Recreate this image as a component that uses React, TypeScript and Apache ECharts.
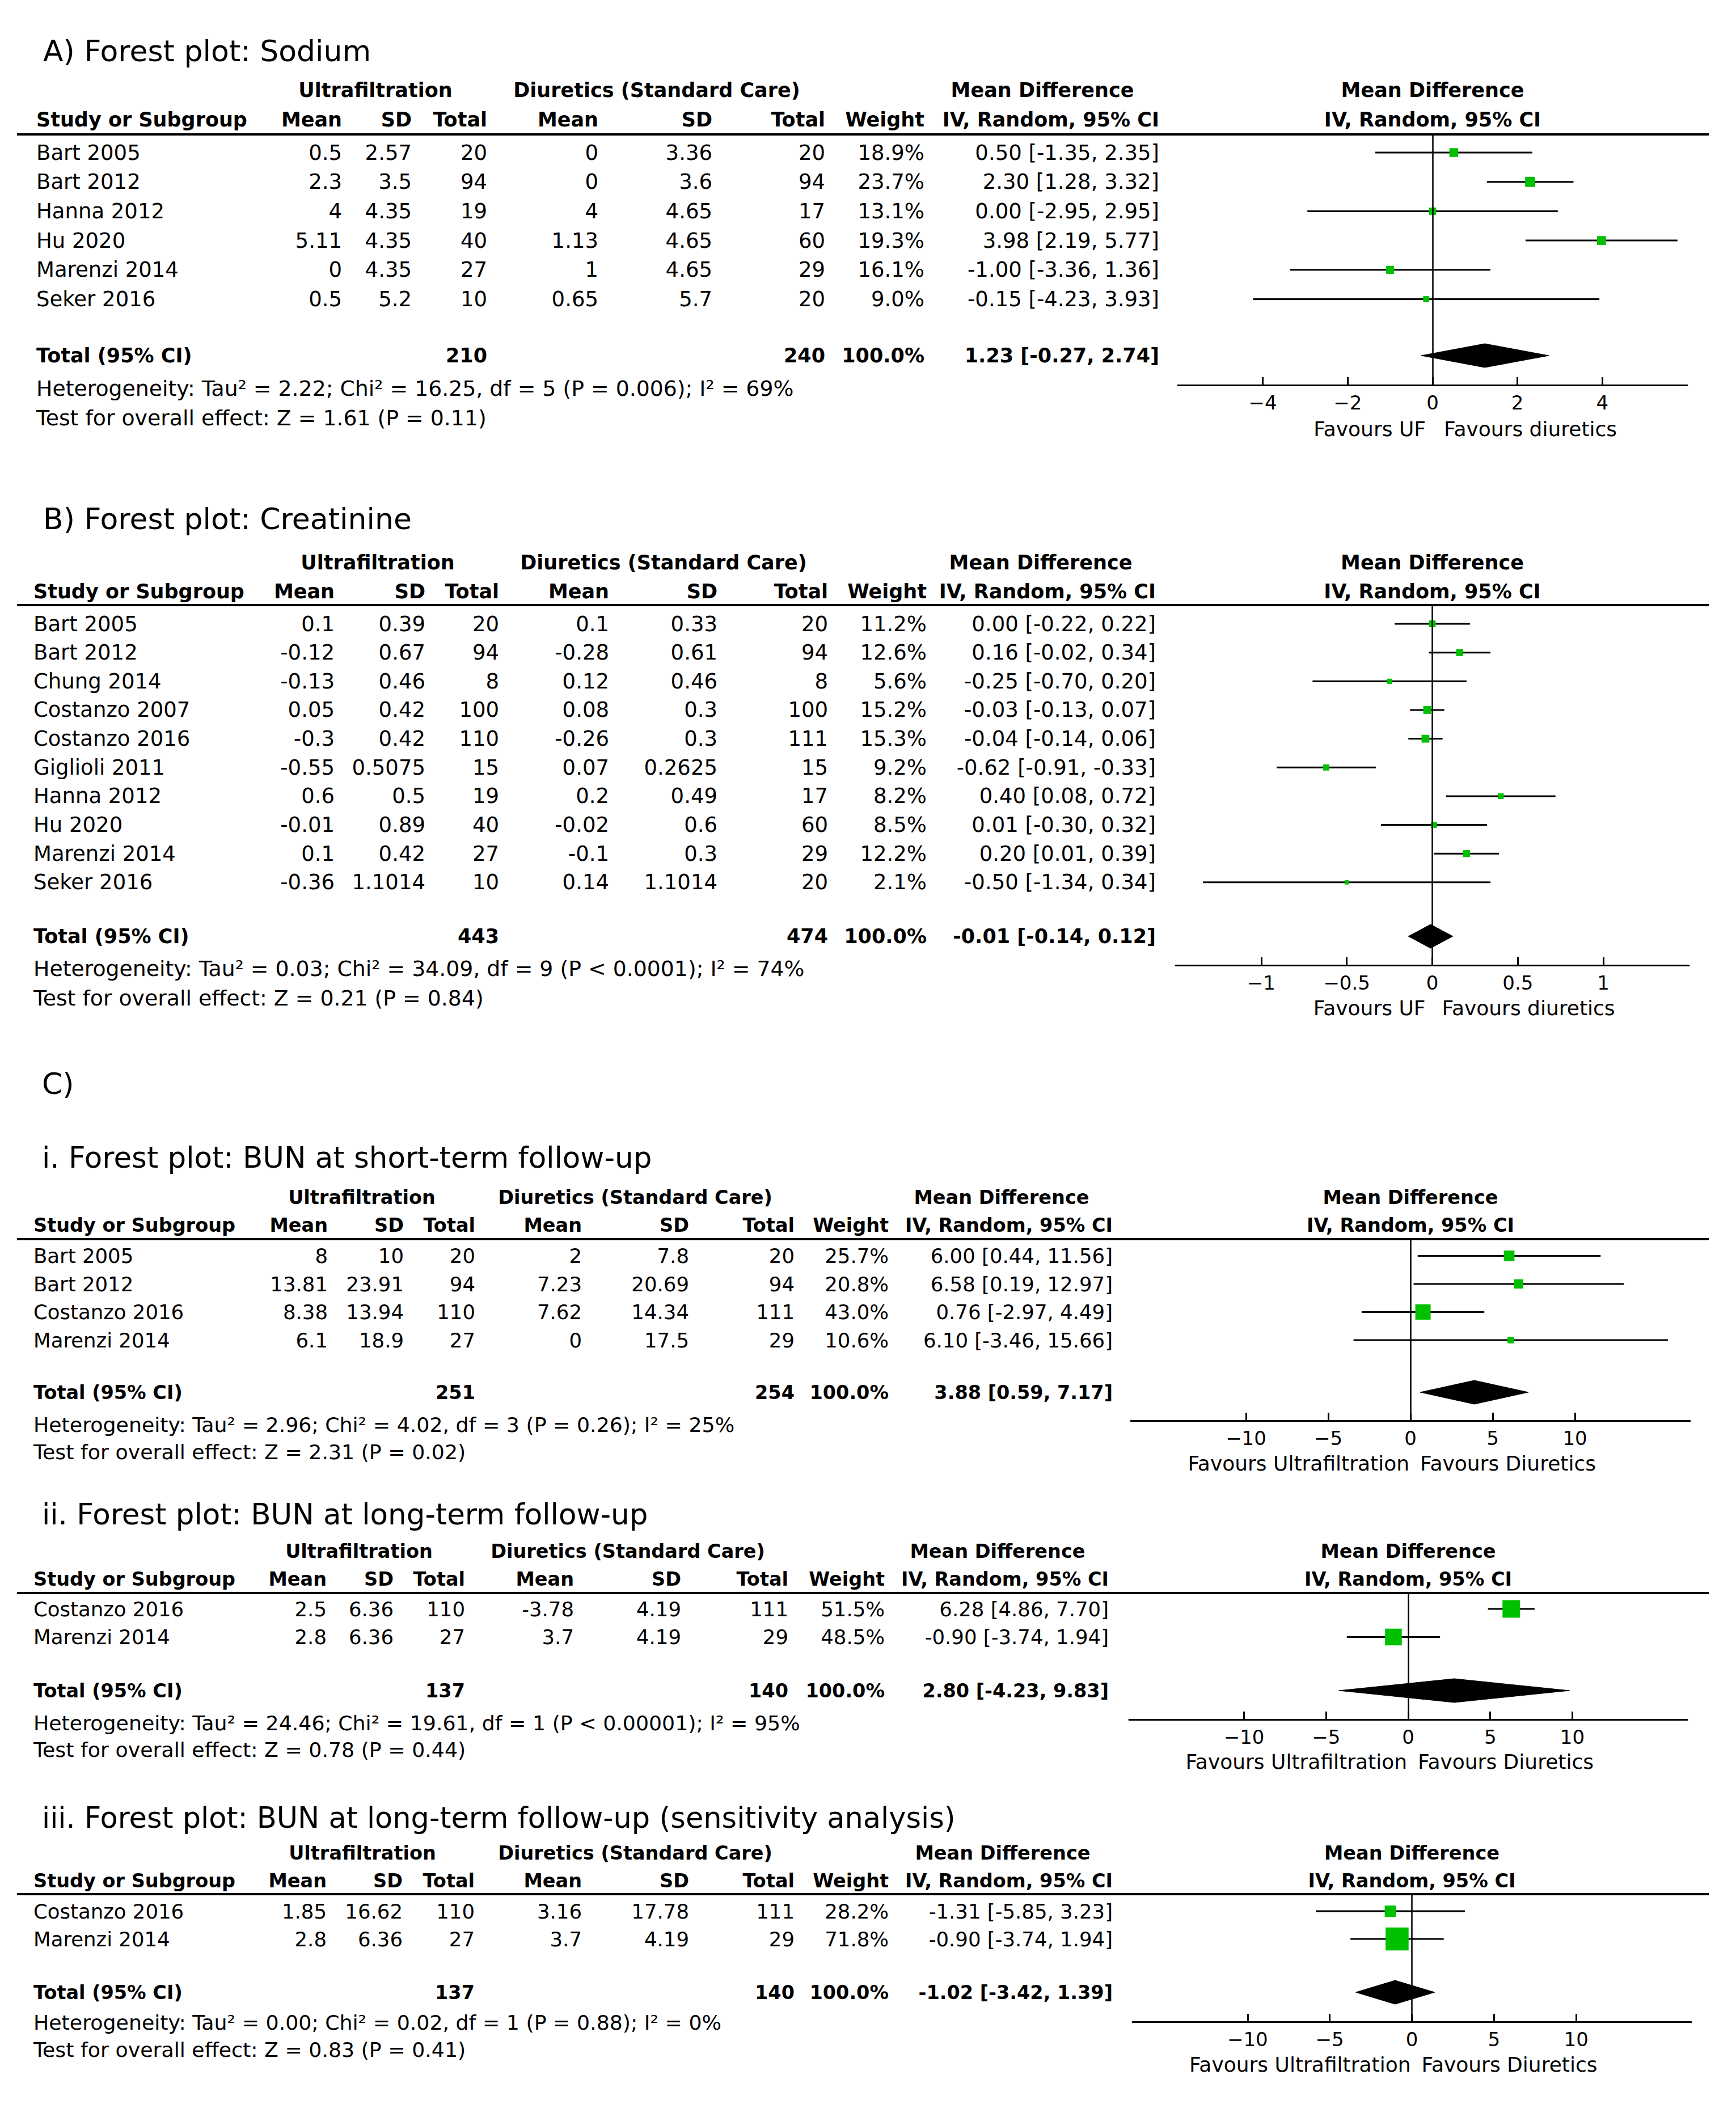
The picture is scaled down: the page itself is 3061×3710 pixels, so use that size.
import React, { useEffect, useRef } from "react";
import * as echarts from "echarts";

const FONT = '"DejaVu Sans", Verdana, sans-serif';
const GREEN = "#00c000";

// ---------------- A) Sodium ----------------
const studiesA = ["Bart 2005", "Bart 2012", "Hanna 2012", "Hu 2020", "Marenzi 2014", "Seker 2016"];
const ufMeanA = [0.5, 2.3, 4, 5.11, 0, 0.5];
const ufSdA = [2.57, 3.5, 4.35, 4.35, 4.35, 5.2];
const ufNA = [20, 94, 19, 40, 27, 10];
const diMeanA = [0, 0, 4, 1.13, 1, 0.65];
const diSdA = [3.36, 3.6, 4.65, 4.65, 4.65, 5.7];
const diNA = [20, 94, 17, 60, 29, 20];
const weightA = [18.9, 23.7, 13.1, 19.3, 16.1, 9.0];
const mdA = [0.5, 2.3, 0.0, 3.98, -1.0, -0.15];
const loA = [-1.35, 1.28, -2.95, 2.19, -3.36, -4.23];
const hiA = [2.35, 3.32, 2.95, 5.77, 1.36, 3.93];
const totalNA = [210, 240];
const totalMdA = [1.23, -0.27, 2.74];
const hetA = "Heterogeneity: Tau² = 2.22; Chi² = 16.25, df = 5 (P = 0.006); I² = 69%";
const testA = "Test for overall effect: Z = 1.61 (P = 0.11)";
const rangeA = [-6, 6];
const ticksA = [-4, -2, 0, 2, 4];
const favA = ["Favours UF", "Favours diuretics"];

// ---------------- B) Creatinine ----------------
const studiesB = ["Bart 2005", "Bart 2012", "Chung 2014", "Costanzo 2007", "Costanzo 2016", "Giglioli 2011", "Hanna 2012", "Hu 2020", "Marenzi 2014", "Seker 2016"];
const ufMeanB = [0.1, -0.12, -0.13, 0.05, -0.3, -0.55, 0.6, -0.01, 0.1, -0.36];
const ufSdB = [0.39, 0.67, 0.46, 0.42, 0.42, 0.5075, 0.5, 0.89, 0.42, 1.1014];
const ufNB = [20, 94, 8, 100, 110, 15, 19, 40, 27, 10];
const diMeanB = [0.1, -0.28, 0.12, 0.08, -0.26, 0.07, 0.2, -0.02, -0.1, 0.14];
const diSdB = [0.33, 0.61, 0.46, 0.3, 0.3, 0.2625, 0.49, 0.6, 0.3, 1.1014];
const diNB = [20, 94, 8, 100, 111, 15, 17, 60, 29, 20];
const weightB = [11.2, 12.6, 5.6, 15.2, 15.3, 9.2, 8.2, 8.5, 12.2, 2.1];
const mdB = [0.0, 0.16, -0.25, -0.03, -0.04, -0.62, 0.4, 0.01, 0.2, -0.5];
const loB = [-0.22, -0.02, -0.7, -0.13, -0.14, -0.91, 0.08, -0.3, 0.01, -1.34];
const hiB = [0.22, 0.34, 0.2, 0.07, 0.06, -0.33, 0.72, 0.32, 0.39, 0.34];
const totalNB = [443, 474];
const totalMdB = [-0.01, -0.14, 0.12];
const hetB = "Heterogeneity: Tau² = 0.03; Chi² = 34.09, df = 9 (P < 0.0001); I² = 74%";
const testB = "Test for overall effect: Z = 0.21 (P = 0.84)";
const rangeB = [-1.5, 1.5];
const ticksB = [-1, -0.5, 0, 0.5, 1];
const favB = ["Favours UF", "Favours diuretics"];

// ---------------- C-i) BUN short-term ----------------
const studiesC1 = ["Bart 2005", "Bart 2012", "Costanzo 2016", "Marenzi 2014"];
const ufMeanC1 = [8, 13.81, 8.38, 6.1];
const ufSdC1 = [10, 23.91, 13.94, 18.9];
const ufNC1 = [20, 94, 110, 27];
const diMeanC1 = [2, 7.23, 7.62, 0];
const diSdC1 = [7.8, 20.69, 14.34, 17.5];
const diNC1 = [20, 94, 111, 29];
const weightC1 = [25.7, 20.8, 43.0, 10.6];
const mdC1 = [6.0, 6.58, 0.76, 6.1];
const loC1 = [0.44, 0.19, -2.97, -3.46];
const hiC1 = [11.56, 12.97, 4.49, 15.66];
const totalNC1 = [251, 254];
const totalMdC1 = [3.88, 0.59, 7.17];
const hetC1 = "Heterogeneity: Tau² = 2.96; Chi² = 4.02, df = 3 (P = 0.26); I² = 25%";
const testC1 = "Test for overall effect: Z = 2.31 (P = 0.02)";

// ---------------- C-ii) BUN long-term ----------------
const studiesC2 = ["Costanzo 2016", "Marenzi 2014"];
const ufMeanC2 = [2.5, 2.8];
const ufSdC2 = [6.36, 6.36];
const ufNC2 = [110, 27];
const diMeanC2 = [-3.78, 3.7];
const diSdC2 = [4.19, 4.19];
const diNC2 = [111, 29];
const weightC2 = [51.5, 48.5];
const mdC2 = [6.28, -0.9];
const loC2 = [4.86, -3.74];
const hiC2 = [7.7, 1.94];
const totalNC2 = [137, 140];
const totalMdC2 = [2.8, -4.23, 9.83];
const hetC2 = "Heterogeneity: Tau² = 24.46; Chi² = 19.61, df = 1 (P < 0.00001); I² = 95%";
const testC2 = "Test for overall effect: Z = 0.78 (P = 0.44)";

// ---------------- C-iii) BUN long-term sensitivity ----------------
const studiesC3 = ["Costanzo 2016", "Marenzi 2014"];
const ufMeanC3 = [1.85, 2.8];
const ufSdC3 = [16.62, 6.36];
const ufNC3 = [110, 27];
const diMeanC3 = [3.16, 3.7];
const diSdC3 = [17.78, 4.19];
const diNC3 = [111, 29];
const weightC3 = [28.2, 71.8];
const mdC3 = [-1.31, -0.9];
const loC3 = [-5.85, -3.74];
const hiC3 = [3.23, 1.94];
const totalNC3 = [137, 140];
const totalMdC3 = [-1.02, -3.42, 1.39];
const hetC3 = "Heterogeneity: Tau² = 0.00; Chi² = 0.02, df = 1 (P = 0.88); I² = 0%";
const testC3 = "Test for overall effect: Z = 0.83 (P = 0.41)";

const rangeC = [-17, 17];
const ticksC = [-10, -5, 0, 5, 10];
const favC = ["Favours Ultrafiltration", "Favours Diuretics"];

const headGroups = ["Ultrafiltration", "Diuretics (Standard Care)", "Mean Difference"];
const headCols = ["Mean", "SD", "Total", "Mean", "SD", "Total", "Weight", "IV, Random, 95% CI"];

// ---------------- layout (pixel positions) ----------------
const layouts = [
  { title: "A) Forest plot: Sodium", titleX: 76, titleY: 90, titleFs: 52, head1Y: 159, head2Y: 211, lineY: 237, rowY0: 269, rowH: 51.7, totalY: 627, hetY: 685, testY: 737, axisY: 679, favY: 756, axisL: 2077, axisR: 2975, favL: 12, favR: 20, studyX: 64, fs: 37, fsP: 37.8, fsB: 35, cols: [603, 726, 859, 1055, 1256, 1455, 1630, 2044], grpX: [662, 1158, 1838] },
  { title: "B) Forest plot: Creatinine", titleX: 76, titleY: 915, titleFs: 52, head1Y: 992, head2Y: 1043, lineY: 1067, rowY0: 1100, rowH: 50.65, totalY: 1651, hetY: 1708, testY: 1760, axisY: 1702, favY: 1777, axisL: 2073, axisR: 2978, favL: 12, favR: 17, studyX: 59, fs: 37, fsP: 37.8, fsB: 35, cols: [590, 750, 880, 1074, 1265, 1460, 1634, 2038], grpX: [666, 1170, 1835] },
  { title: "i. Forest plot: BUN at short-term follow-up", titleX: 74, titleY: 2041, titleFs: 51.5, head1Y: 2111, head2Y: 2160, lineY: 2185, rowY0: 2214.5, rowH: 49.5, totalY: 2455, hetY: 2512, testY: 2560, axisY: 2505, favY: 2580, axisL: 1994, axisR: 2980, favL: 2, favR: 17, studyX: 59, fs: 35.5, fsP: 36.3, fsB: 33.5, cols: [578, 712, 838, 1026, 1215, 1401, 1567, 1962], grpX: [638, 1120, 1766] },
  { title: "ii. Forest plot: BUN at long-term follow-up", titleX: 74, titleY: 2670, titleFs: 51.5, head1Y: 2735, head2Y: 2784, lineY: 2809, rowY0: 2837, rowH: 49.5, totalY: 2981, hetY: 3038, testY: 3085, axisY: 3032, favY: 3106, axisL: 1991, axisR: 2975, favL: 2, favR: 17, studyX: 59, fs: 35.5, fsP: 36.3, fsB: 33.5, cols: [576, 694, 820, 1012, 1201, 1390, 1560, 1955], grpX: [633, 1107, 1759] },
  { title: "iii. Forest plot: BUN at long-term follow-up (sensitivity analysis)", titleX: 74, titleY: 3205, titleFs: 51, head1Y: 3267, head2Y: 3316, lineY: 3340, rowY0: 3370, rowH: 49, totalY: 3513, hetY: 3566, testY: 3614, axisY: 3565, favY: 3640, axisL: 1997, axisR: 2982, favL: 2, favR: 17, studyX: 59, fs: 35.5, fsP: 36.3, fsB: 33.5, cols: [576, 710, 837, 1026, 1215, 1401, 1567, 1962], grpX: [639, 1120, 1768] },
];

const panelData = [
  { studies: studiesA, ufMean: ufMeanA, ufSd: ufSdA, ufN: ufNA, diMean: diMeanA, diSd: diSdA, diN: diNA, weight: weightA, md: mdA, lo: loA, hi: hiA, totN: totalNA, totMd: totalMdA, het: hetA, test: testA, range: rangeA, ticks: ticksA, fav: favA },
  { studies: studiesB, ufMean: ufMeanB, ufSd: ufSdB, ufN: ufNB, diMean: diMeanB, diSd: diSdB, diN: diNB, weight: weightB, md: mdB, lo: loB, hi: hiB, totN: totalNB, totMd: totalMdB, het: hetB, test: testB, range: rangeB, ticks: ticksB, fav: favB },
  { studies: studiesC1, ufMean: ufMeanC1, ufSd: ufSdC1, ufN: ufNC1, diMean: diMeanC1, diSd: diSdC1, diN: diNC1, weight: weightC1, md: mdC1, lo: loC1, hi: hiC1, totN: totalNC1, totMd: totalMdC1, het: hetC1, test: testC1, range: rangeC, ticks: ticksC, fav: favC },
  { studies: studiesC2, ufMean: ufMeanC2, ufSd: ufSdC2, ufN: ufNC2, diMean: diMeanC2, diSd: diSdC2, diN: diNC2, weight: weightC2, md: mdC2, lo: loC2, hi: hiC2, totN: totalNC2, totMd: totalMdC2, het: hetC2, test: testC2, range: rangeC, ticks: ticksC, fav: favC },
  { studies: studiesC3, ufMean: ufMeanC3, ufSd: ufSdC3, ufN: ufNC3, diMean: diMeanC3, diSd: diSdC3, diN: diNC3, weight: weightC3, md: mdC3, lo: loC3, hi: hiC3, totN: totalNC3, totMd: totalMdC3, het: hetC3, test: testC3, range: rangeC, ticks: ticksC, fav: favC },
];

function txt(text: string, x: number, y: number, align: string, size: number, bold: boolean) {
  return {
    type: "text",
    x,
    y,
    silent: true,
    style: {
      text,
      fill: "#000",
      fontSize: size,
      fontWeight: bold ? "bold" : "normal",
      fontFamily: FONT,
      align,
      verticalAlign: "middle",
      textAlign: align,
      textVerticalAlign: "middle",
    },
  };
}

const f2 = (v: number) => v.toFixed(2);
const ciText = (m: number, l: number, h: number) => `${f2(m)} [${f2(l)}, ${f2(h)}]`;
const boxSize = (w: number) => 6.5 + 0.475 * w;

function buildOption() {
  const graphic: any[] = [];
  const grid: any[] = [];
  const xAxis: any[] = [];
  const yAxis: any[] = [];
  const series: any[] = [];

  graphic.push(txt("C)", 74, 1911, "left", 52, false));

  panelData.forEach((D, k) => {
    const L = layouts[k];
    const rowY = (i: number) => L.rowY0 + i * L.rowH;
    const zeroX = L.axisL + ((0 - D.range[0]) / (D.range[1] - D.range[0])) * (L.axisR - L.axisL);

    graphic.push(txt(L.title, L.titleX, L.titleY, "left", L.titleFs, false));
    graphic.push(txt(headGroups[0], L.grpX[0], L.head1Y, "center", L.fsB, true));
    graphic.push(txt(headGroups[1], L.grpX[1], L.head1Y, "center", L.fsB, true));
    graphic.push(txt(headGroups[2], L.grpX[2], L.head1Y, "center", L.fsB, true));
    graphic.push(txt("Study or Subgroup", L.studyX, L.head2Y, "left", L.fsB, true));
    headCols.forEach((h, j) => graphic.push(txt(h, L.cols[j], L.head2Y, "right", L.fsB, true)));
    graphic.push(txt("Mean Difference", zeroX, L.head1Y, "center", L.fsB, true));
    graphic.push(txt("IV, Random, 95% CI", zeroX, L.head2Y, "center", L.fsB, true));
    graphic.push({
      type: "line",
      silent: true,
      shape: { x1: 30, y1: L.lineY, x2: 3013, y2: L.lineY },
      style: { stroke: "#000", lineWidth: 4 },
    });

    D.studies.forEach((s, i) => {
      const y = rowY(i);
      graphic.push(txt(s, L.studyX, y, "left", L.fs, false));
      const cells = [
        String(D.ufMean[i]),
        String(D.ufSd[i]),
        String(D.ufN[i]),
        String(D.diMean[i]),
        String(D.diSd[i]),
        String(D.diN[i]),
        D.weight[i].toFixed(1) + "%",
        ciText(D.md[i], D.lo[i], D.hi[i]),
      ];
      cells.forEach((c, j) => graphic.push(txt(c, L.cols[j], y, "right", L.fs, false)));
    });

    graphic.push(txt("Total (95% CI)", L.studyX, L.totalY, "left", L.fsB, true));
    graphic.push(txt(String(D.totN[0]), L.cols[2], L.totalY, "right", L.fsB, true));
    graphic.push(txt(String(D.totN[1]), L.cols[5], L.totalY, "right", L.fsB, true));
    graphic.push(txt("100.0%", L.cols[6], L.totalY, "right", L.fsB, true));
    graphic.push(txt(ciText(D.totMd[0], D.totMd[1], D.totMd[2]), L.cols[7], L.totalY, "right", L.fsB, true));
    graphic.push(txt(D.het, L.studyX, L.hetY, "left", L.fsP, false));
    graphic.push(txt(D.test, L.studyX, L.testY, "left", L.fsP, false));

    graphic.push(txt(D.fav[0], zeroX - L.favL, L.favY, "right", 36, false));
    graphic.push(txt(D.fav[1], zeroX + L.favR, L.favY, "left", 36, false));

    grid.push({
      left: L.axisL,
      top: L.lineY,
      width: L.axisR - L.axisL,
      height: L.axisY - L.lineY,
      containLabel: false,
      outerBoundsMode: "none",
      show: false,
    });
    xAxis.push({
      gridIndex: k,
      type: "value",
      min: D.range[0],
      max: D.range[1],
      position: "bottom",
      axisLine: { show: true, onZero: false, lineStyle: { color: "#000", width: 3 } },
      axisTick: { show: true, inside: true, length: 14, customValues: D.ticks, lineStyle: { color: "#000", width: 3 } },
      axisLabel: {
        show: true,
        customValues: D.ticks,
        margin: 14,
        fontSize: 34,
        fontFamily: FONT,
        color: "#000",
        formatter: (v: number) => String(v).replace("-", "\u2212"),
      },
      splitLine: { show: false },
    });
    yAxis.push({
      gridIndex: k,
      type: "value",
      inverse: true,
      min: (L.lineY - L.rowY0) / L.rowH,
      max: (L.axisY - L.rowY0) / L.rowH,
      show: false,
      axisLine: { onZero: false },
      splitLine: { show: false },
    });

    const totalIdx = (L.totalY - L.rowY0) / L.rowH;

    series.push({
      type: "custom",
      xAxisIndex: k,
      yAxisIndex: k,
      silent: true,
      z: 2,
      encode: { x: [0, 1], y: 2 },
      data: D.lo.map((l, i) => [l, D.hi[i], i]),
      renderItem: (params: any, api: any) => {
        const p1 = api.coord([api.value(0), api.value(2)]);
        const p2 = api.coord([api.value(1), api.value(2)]);
        return {
          type: "line",
          shape: { x1: p1[0], y1: p1[1], x2: p2[0], y2: p2[1] },
          style: { stroke: "#000", lineWidth: 3 },
        };
      },
    });
    series.push({
      type: "scatter",
      xAxisIndex: k,
      yAxisIndex: k,
      silent: true,
      z: 4,
      symbol: "rect",
      itemStyle: { color: GREEN, opacity: 1 },
      emphasis: { disabled: true },
      data: D.md.map((m, i) => ({ value: [m, i], symbolSize: boxSize(D.weight[i]) })),
      markLine: {
        silent: true,
        symbol: ["none", "none"],
        label: { show: false },
        lineStyle: { color: "#000", width: 2.5, type: "solid" },
        emphasis: { disabled: true },
        data: [{ xAxis: 0 }],
      },
    });
    series.push({
      type: "custom",
      xAxisIndex: k,
      yAxisIndex: k,
      silent: true,
      z: 5,
      encode: { x: [0, 1, 2], y: 3 },
      data: [[D.totMd[1], D.totMd[0], D.totMd[2], totalIdx]],
      renderItem: (params: any, api: any) => {
        const y = api.value(3);
        const pl = api.coord([api.value(0), y]);
        const pm = api.coord([api.value(1), y]);
        const ph = api.coord([api.value(2), y]);
        const hh = 21;
        return {
          type: "polygon",
          shape: { points: [pl, [pm[0], pm[1] - hh], ph, [pm[0], pm[1] + hh]] },
          style: { fill: "#000", stroke: "#000", lineWidth: 1 },
        };
      },
    });
  });

  return {
    animation: false,
    backgroundColor: "#fff",
    tooltip: { show: false },
    grid,
    xAxis,
    yAxis,
    series,
    graphic: { elements: graphic },
  };
}

export default function App() {
  const ref = useRef<HTMLDivElement>(null);
  useEffect(() => {
    document.body.style.margin = "0";
    const chart = echarts.init(ref.current as HTMLDivElement, null, { renderer: "svg", width: 3061, height: 3710 });
    chart.setOption(buildOption() as any);
    return () => chart.dispose();
  }, []);
  return <div ref={ref} style={{ width: 3061, height: 3710, background: "#fff" }} />;
}
